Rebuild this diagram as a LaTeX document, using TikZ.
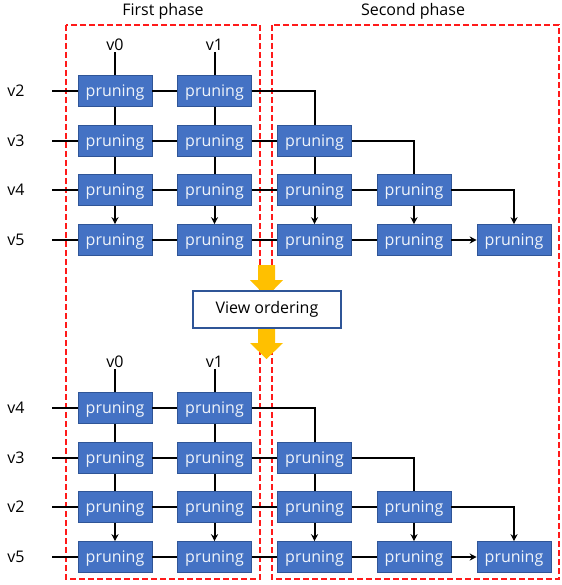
\documentclass[tikz,border=0pt]{standalone}
\usepackage{fontspec}
\setmainfont{Open Sans}
\usetikzlibrary{arrows.meta}
\definecolor{boxblue}{HTML}{4472C4}
\definecolor{boxedge}{HTML}{2F5597}
\definecolor{gold}{HTML}{FFC000}
\definecolor{dashred}{HTML}{FF1A1A}
\tikzset{
  prune/.style={rectangle, fill=boxblue, draw=boxedge, line width=0.6pt, minimum width=74pt, minimum height=31pt, inner sep=0pt, text height=15pt, text depth=3.5pt, text=white!92!boxblue, font=\fontsize{16}{19}\selectfont},
  lbl/.style={inner sep=1pt, font=\fontsize{16}{19}\selectfont},
  conn/.style={line width=2pt, black},
  arr/.style={line width=2pt, black, -{Stealth[length=7pt,width=7pt]}},
  phase/.style={draw=dashred, line width=2pt, dash pattern=on 6pt off 3pt},
  yellowarrow/.style={fill=gold, draw=none},
}
\begin{document}
\begin{tikzpicture}[x=1pt,y=-1pt]
\useasboundingbox (0,0) rectangle (561,585);
\fill[white] (0,0) rectangle (561,585);
% phase frames
\draw[phase] (66,25) rectangle (260,579);
\draw[phase] (272,25) rectangle (559,579);
\node[lbl] (first) at (163,11) {First phase};
\node[lbl] (second) at (413,11) {Second phase};
% two halves
\foreach \P/\ya/\yb/\yc/\yd/\yv/\la/\lb/\lc/\ld in {t/91/141/190/240/45/v2/v3/v4/v5, b/408/458/507/557/362/v4/v3/v2/v5}{
  \node[lbl] (\P v0) at (115,\yv) {v0};
  \node[lbl] (\P v1) at (214.5,\yv) {v1};
  \node[lbl] (\P L1) at (16,\ya) {\la};
  \node[lbl] (\P L2) at (16,\yb) {\lb};
  \node[lbl] (\P L3) at (16,\yc) {\lc};
  \node[lbl] (\P L4) at (16,\yd) {\ld};
  \coordinate (\P S1) at (52,\ya);
  \coordinate (\P S2) at (52,\yb);
  \coordinate (\P S3) at (52,\yc);
  \coordinate (\P S4) at (52,\yd);
  \node[prune] (\P11) at (115,\ya) {pruning};
  \node[prune] (\P21) at (115,\yb) {pruning};
  \node[prune] (\P31) at (115,\yc) {pruning};
  \node[prune] (\P41) at (115,\yd) {pruning};
  \node[prune] (\P12) at (214.5,\ya) {pruning};
  \node[prune] (\P22) at (214.5,\yb) {pruning};
  \node[prune] (\P32) at (214.5,\yc) {pruning};
  \node[prune] (\P42) at (214.5,\yd) {pruning};
  \node[prune] (\P23) at (314.5,\yb) {pruning};
  \node[prune] (\P33) at (314.5,\yc) {pruning};
  \node[prune] (\P43) at (314.5,\yd) {pruning};
  \node[prune] (\P34) at (414,\yc) {pruning};
  \node[prune] (\P44) at (414,\yd) {pruning};
  \node[prune] (\P45) at (514,\yd) {pruning};
  % input lines
  \draw[conn] (\P v0.south) -- (\P11.north);
  \draw[conn] (\P v1.south) -- (\P12.north);
  \draw[conn] (\P S1) -- (\P11.west);
  \draw[conn] (\P S2) -- (\P21.west);
  \draw[conn] (\P S3) -- (\P31.west);
  \draw[conn] (\P S4) -- (\P41.west);
  % horizontal
  \draw[conn] (\P11) -- (\P12);
  \draw[conn] (\P21) -- (\P22);
  \draw[conn] (\P31) -- (\P32);
  \draw[conn] (\P41) -- (\P42);
  \draw[conn] (\P22) -- (\P23);
  \draw[conn] (\P32) -- (\P33);
  \draw[conn] (\P42) -- (\P43);
  \draw[conn] (\P33) -- (\P34);
  \draw[conn] (\P43) -- (\P44);
  \draw[arr] (\P44) -- (\P45);
  % elbows
  \draw[conn] (\P12.east) -| (\P23.north);
  \draw[conn] (\P23.east) -| (\P34.north);
  \draw[arr] (\P34.east) -| (\P45.north);
  % vertical
  \draw[conn] (\P11) -- (\P21);
  \draw[conn] (\P21) -- (\P31);
  \draw[arr] (\P31) -- (\P41);
  \draw[conn] (\P12) -- (\P22);
  \draw[conn] (\P22) -- (\P32);
  \draw[arr] (\P32) -- (\P42);
  \draw[conn] (\P23) -- (\P33);
  \draw[arr] (\P33) -- (\P43);
  \draw[arr] (\P34) -- (\P44);
}
% yellow arrows and view ordering box
\fill[yellowarrow] (258,265) -- (275,265) -- (275,280) -- (283,280) -- (266.5,297) -- (250,280) -- (258,280) -- cycle;
\fill[yellowarrow] (258,327) -- (275,327) -- (275,343) -- (283,343) -- (266.5,359) -- (250,343) -- (258,343) -- cycle;
\node[rectangle, draw=boxedge, line width=1.5pt, fill=white, minimum width=148pt, minimum height=37pt, inner sep=0pt, font=\fontsize{16}{19}\selectfont] (vo) at (267,309.5) {View ordering};
\end{tikzpicture}
\end{document}
